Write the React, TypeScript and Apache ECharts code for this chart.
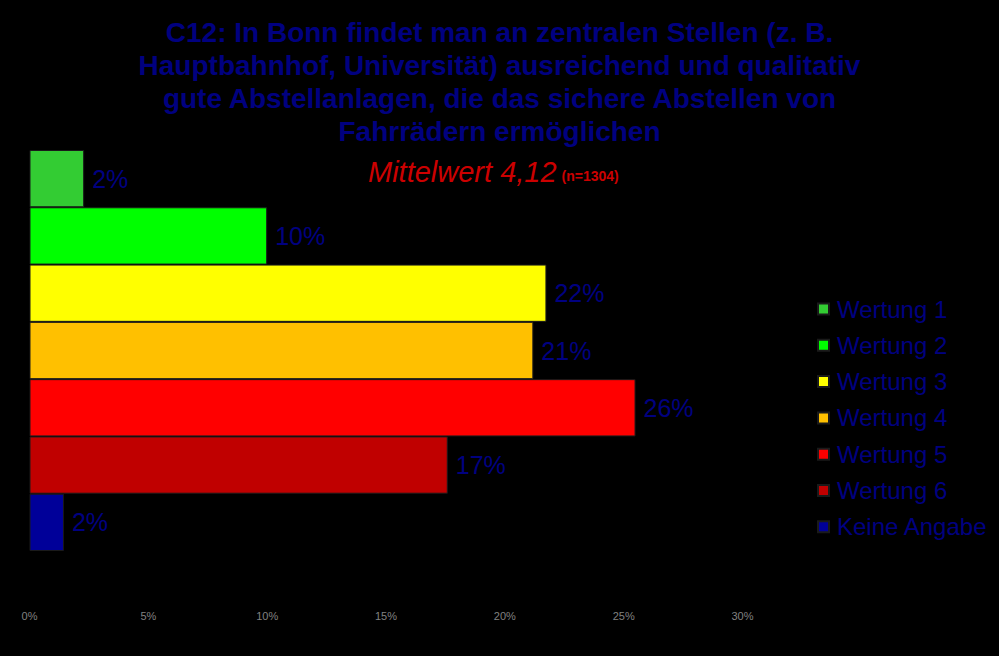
import React, { useEffect, useRef } from "react";
import * as echarts from "echarts";

const categories = ["Wertung 1", "Wertung 2", "Wertung 3", "Wertung 4", "Wertung 5", "Wertung 6", "Keine Angabe"];
const values = [2.3, 10.0, 21.75, 21.2, 25.5, 17.6, 1.45];
const valueLabels = ["2%", "10%", "22%", "21%", "26%", "17%", "2%"];
const colors = ["#33cc33", "#00ff00", "#ffff00", "#ffc000", "#ff0000", "#c00000", "#000099"];
const xTicks = [0, 5, 10, 15, 20, 25, 30];

const titleText =
  "C12: In Bonn findet man an zentralen Stellen (z. B.\nHauptbahnhof, Universität) ausreichend und qualitativ\ngute Abstellanlagen, die das sichere Abstellen von\nFahrrädern ermöglichen";

const FONT = 'Arial, "Liberation Sans", sans-serif';

export default function App() {
  const ref = useRef<HTMLDivElement>(null);
  useEffect(() => {
    if (!ref.current) return;
    const chart = echarts.init(ref.current, null, { renderer: "svg" });
    const series = categories.map((name, i) => ({
      name,
      type: "bar",
      stack: "all",
      barCategoryGap: "0%",
      data: categories.map((_, j) => (j === i ? values[i] : "-")),
      itemStyle: { color: colors[i], borderColor: "#1a1a1a", borderWidth: 1 },
      label: {
        show: true,
        position: "right",
        distance: 8,
        formatter: () => valueLabels[i],
        color: "#000080",
        fontSize: 25,
        fontFamily: FONT,
      },
    }));
    chart.setOption({
      animation: false,
      backgroundColor: "#000000",
      title: [
        {
          text: titleText,
          left: "center",
          top: 11,
          textStyle: {
            color: "#000080",
            fontSize: 28,
            fontWeight: "bold",
            lineHeight: 33,
            fontFamily: FONT,
          },
        },
        {
          text: "{a|Mittelwert 4,12} {b|(n=1304)}",
          left: 363,
          top: 152,
          textStyle: {
            fontWeight: "normal",
            rich: {
              a: { color: "#cc0000", fontSize: 29, fontStyle: "italic", fontWeight: "normal", fontFamily: FONT },
              b: { color: "#cc0000", fontSize: 14, fontWeight: "bold", fontFamily: FONT, padding: [8, 0, 0, 0] },
            },
          },
        },
      ],
      legend: {
        orient: "vertical",
        left: 812,
        top: 292,
        itemWidth: 11,
        itemHeight: 11,
        itemGap: 12.3,
        icon: "rect",
        data: categories,
        textStyle: { color: "#000080", fontSize: 24, lineHeight: 24, fontFamily: FONT, padding: [0, 0, 0, 3] },
      },
      grid: { left: 29.5, right: 256.5, top: 150, height: 401 },
      xAxis: {
        type: "value",
        min: xTicks[0],
        max: xTicks[xTicks.length - 1],
        interval: 5,
        axisLine: { show: false },
        axisTick: { show: false },
        splitLine: { show: false },
        axisLabel: { formatter: "{value}%", color: "#808080", fontSize: 11, margin: 59, fontFamily: FONT },
      },
      yAxis: {
        type: "category",
        inverse: true,
        data: categories,
        show: false,
      },
      series,
    });
    return () => chart.dispose();
  }, []);
  return (
    <div
      ref={ref}
      style={{ position: "fixed", left: 0, top: 0, width: 999, height: 656, background: "#000" }}
    />
  );
}
